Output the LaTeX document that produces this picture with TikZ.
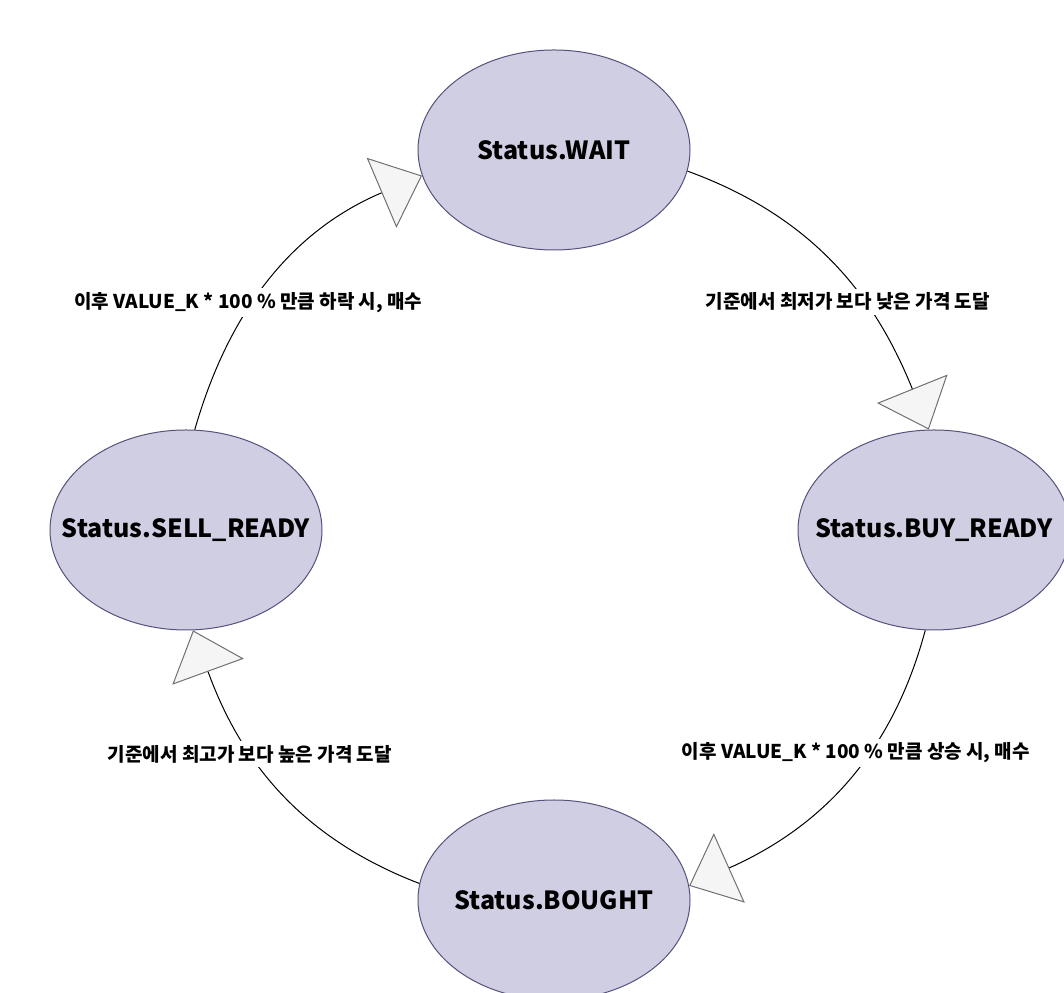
\documentclass[tikz,border=0pt]{standalone}
\usepackage{fontspec}
\setmainfont{Noto Sans CJK KR}
\usetikzlibrary{shapes, arrows.meta, positioning}
\definecolor{stateFill}{HTML}{D0CEE2}
\definecolor{stateLine}{HTML}{56517E}
\definecolor{tipFill}{HTML}{F5F5F5}
\definecolor{tipLine}{HTML}{707070}
\newcommand{\stateName}[1]{\makebox[0pt]{#1}}
\tikzstyle{state} = [ellipse, minimum width=272pt, minimum height=200pt, inner sep=0pt, fill=stateFill,
draw=stateLine, line width=1pt, font=\fontsize{25}{30}\selectfont\bfseries]
\tikzstyle{cond} = [fill=white, inner sep=4pt, font=\fontsize{19}{22}\selectfont\bfseries]
\tikzstyle{trans} = [line width=1pt, -{Triangle[length=44pt, width=76pt, color=tipLine, fill=tipFill]}]

\begin{document}
\begin{tikzpicture}[x=1pt, y=1pt, node distance=380pt]

    \useasboundingbox (0,0) rectangle (1064,992);
    \node (wait) [state] at (554,842) {\stateName{Status.WAIT}};
    \node (buy) [state, below of=wait, xshift=380pt] {\stateName{Status.BUY\_READY}};
    \node (sell) [state, below of=wait, xshift=-368pt] {\stateName{Status.SELL\_READY}};
    \node (bought) [state, below of=wait, yshift=-370pt] {\stateName{Status.BOUGHT}};

    \draw[trans] (wait.-9) to[out=-20, in=112] node[cond, pos=0.6, xshift=-11pt, yshift=-5pt] {기준에서 최저가 보다 낮은 가격 도달} (buy.93);
    \draw[trans] (buy.-95) to[out=-105, in=24] node[cond, pos=0.37, xshift=-13pt] {이후 VALUE\_K * 100 \% 만큼 상승 시, 매수} (bought.6);
    \draw[trans] (bought.173) to[out=159, in=-70] node[cond, pos=0.62, xshift=-3pt] {기준에서 최고가 보다 높은 가격 도달} (sell.-86);
    \draw[trans] (sell.85) to[out=74, in=-157] node[cond, pos=0.39, xshift=-5pt] {이후 VALUE\_K * 100 \% 만큼 하락 시, 매수} (wait.191);

    \end{tikzpicture}
\end{document}
